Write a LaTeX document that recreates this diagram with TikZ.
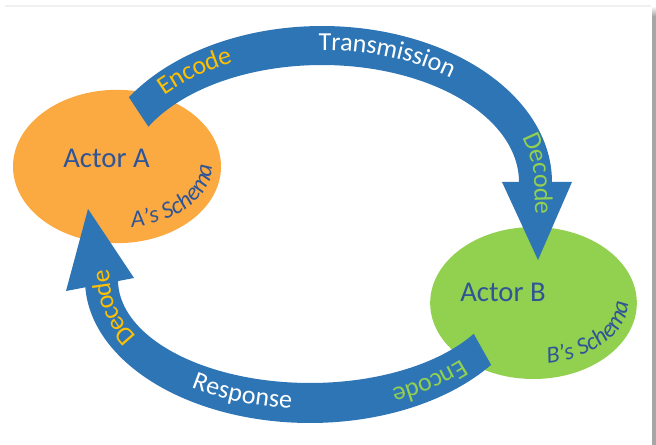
\documentclass[tikz,border=0pt]{standalone}
\usepackage{fontspec}
\setmainfont{Carlito}
\usetikzlibrary{shapes.geometric,decorations.text}

\definecolor{flowblue}{HTML}{2E75B6}
\definecolor{actororange}{HTML}{FBA941}
\definecolor{actorgreen}{HTML}{92D050}
\definecolor{namecolor}{HTML}{2F5597}
\definecolor{codegold}{HTML}{FFC000}
\definecolor{shadowgray}{HTML}{A6A6A6}
\definecolor{edgegray}{HTML}{F0F0F0}

\newcommand{\bandfont}{\fontsize{19.5}{22}\selectfont}
\newcommand{\schemafont}{\fontsize{18}{22}\selectfont\itshape}

\begin{document}
\begin{tikzpicture}[x=0.75pt, y=-0.75pt,
  actor/.style={ellipse, draw=none, inner sep=0pt},
  actorname/.style={font=\fontsize{21.5}{24}\selectfont, text=namecolor, inner sep=0pt},
  band/.style={fill=flowblue, draw=none},
  bandlabel/.style={decorate, decoration={text along path, text align=center,
      raise=-3.4pt, text color=#1}},
  schemalabel/.style={decorate, decoration={text along path, text align=center,
      raise=0pt, text color=namecolor}},
]
\useasboundingbox (0,0) rectangle (656,445);

% page edge and its shadow
\draw[edgegray, line width=1.5pt] (5,6) -- (651,6);
\shade[top color=white, bottom color=shadowgray] (652,6) rectangle (656,16);
\fill[shadowgray] (652,16) rectangle (656,445);

% the two actors
\node[actor, fill=actororange, minimum width=156pt, minimum height=115pt] (actorA) at (117,166.5) {};
\node[actor, fill=actorgreen, minimum width=155pt, minimum height=114pt] (actorB) at (533.5,303) {};

% transmission arrow (A to B)
\fill[band]
  plot[domain=-147.1:0, samples=90, variable=\t] ({322+230*cos(\t)},{182+156*sin(\t)})
  -- (552,186) -- (519,186)
  -- plot[domain=0:-151.8, samples=90, variable=\t] ({322+197*cos(\t)},{182+117*sin(\t)})
  -- cycle;
\coordinate (tipB) at (538,260);
\fill[band] (502,182) -- (572,182) -- (tipB) -- cycle;

% response arrow (B to A)
\fill[band]
  plot[domain=36.4:180, samples=90, variable=\t] ({310+225*cos(\t)},{280+143*sin(\t)})
  -- (85,276) -- (118,276)
  -- plot[domain=180:31.5, samples=90, variable=\t] ({310+192*cos(\t)},{280+103*sin(\t)})
  -- cycle;
\coordinate (tipA) at (88,209);
\fill[band] (66,291) -- (134,278) -- (tipA) -- cycle;

% actor names
\node[actorname] (nameA) at (106.5,158.5) {Actor A};
\node[actorname] (nameB) at (503,292) {Actor B};

% schema captions along the inside of each actor
\path[schemalabel, decoration={text={|\schemafont|A’s Schema}}]
  plot[domain=94:-20, samples=60, variable=\t] ({117+95*cos(\t)},{166+62*sin(\t)});
\path[schemalabel, decoration={text={|\schemafont|B’s Schema}}]
  plot[domain=94:-20, samples=60, variable=\t] ({533+95*cos(\t)},{303+61*sin(\t)});

% labels on the transmission arrow
\path[bandlabel=codegold, decoration={text={|\bandfont|Encode}}]
  plot[domain=-158:-100, samples=50, variable=\t] ({322+213.5*cos(\t)},{182+136.5*sin(\t)});
\path[bandlabel=white, decoration={text={|\bandfont|Transmission}}]
  plot[domain=-98:-44, samples=50, variable=\t] ({322+213.5*cos(\t)},{182+136.5*sin(\t)});
\path[bandlabel=actorgreen, decoration={raise=-1pt, text={|\bandfont|Decode}}]
  plot[domain=-36:0, samples=40, variable=\t] ({322+213.5*cos(\t)},{182+136.5*sin(\t)})
  -- (tipB);

% labels on the response arrow
\path[bandlabel=actorgreen, decoration={text={|\bandfont|Encode}}]
  plot[domain=32:75, samples=40, variable=\t] ({310+208.5*cos(\t)},{280+123*sin(\t)});
\path[bandlabel=white, decoration={raise=-4.5pt, text={|\bandfont|Response}}]
  plot[domain=142:80, samples=50, variable=\t] ({310+208.5*cos(\t)},{280+123*sin(\t)});
\path[bandlabel=codegold, decoration={raise=-6.5pt, text={|\bandfont|Decode}}]
  plot[domain=128:180, samples=40, variable=\t] ({310+208.5*cos(\t)},{280+123*sin(\t)})
  -- (tipA);
\end{tikzpicture}
\end{document}
